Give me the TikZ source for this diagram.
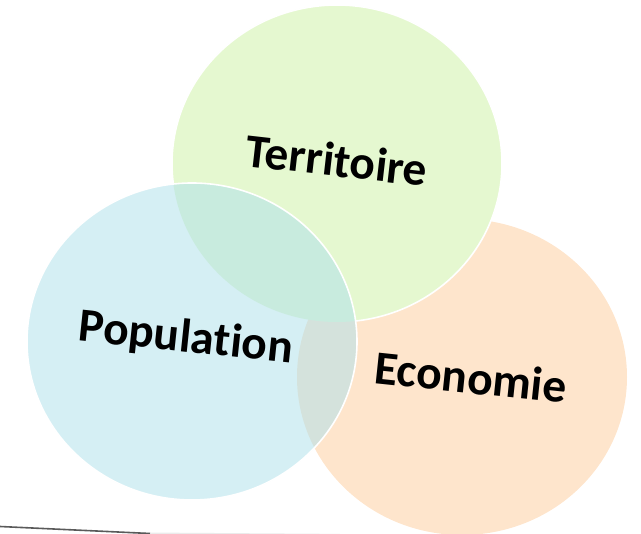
\documentclass[tikz,border=0pt]{standalone}
\usepackage{fontspec}
\setmainfont{Carlito}[Ligatures=NoCommon]
\definecolor{greenF}{RGB}{229,248,208}
\definecolor{orangeF}{RGB}{254,229,204}
\definecolor{blueF}{RGB}{177,225,235}
\definecolor{lineG}{RGB}{90,90,90}
\begin{document}
\begin{tikzpicture}[x=1pt,y=-1pt,
  lbl/.style={font=\fontsize{47.5}{56}\selectfont\bfseries, text=black, inner sep=0pt},
  edge/.style={draw=white, line width=1.6pt}]
\useasboundingbox (0,0) rectangle (641,534);
% Economie circle
\fill[orangeF] (462,377) ellipse [x radius=165pt, y radius=158pt];
% Territoire circle
\fill[greenF] (337,163.5) ellipse [x radius=165pt, y radius=158.5pt];
\begin{scope}[even odd rule]
  \clip (-20,-20) rectangle (700,600)
       (192,341.5) ellipse [x radius=165pt, y radius=158.5pt];
  \draw[edge] (337,163.5) ellipse [x radius=165pt, y radius=158.5pt];
\end{scope}
% Population circle
\fill[blueF, fill opacity=0.54] (192,341.5) ellipse [x radius=165pt, y radius=158.5pt];
\draw[edge] (192,341.5) ellipse [x radius=165pt, y radius=158.5pt];
% base line
\draw[black!8, line width=1.2pt] (130,533) -- (340,534.5);
\draw[lineG, line width=1.6pt] (0,526.5) -- (150,533.5);
% labels
\node[lbl, rotate=-6.5] (terr) at (337,160) {Territoire};
\node[lbl, rotate=-6] (pop) at (186,339) {Population};
\node[lbl, rotate=-6] (eco) at (471,377) {Economie};
\end{tikzpicture}
\end{document}
